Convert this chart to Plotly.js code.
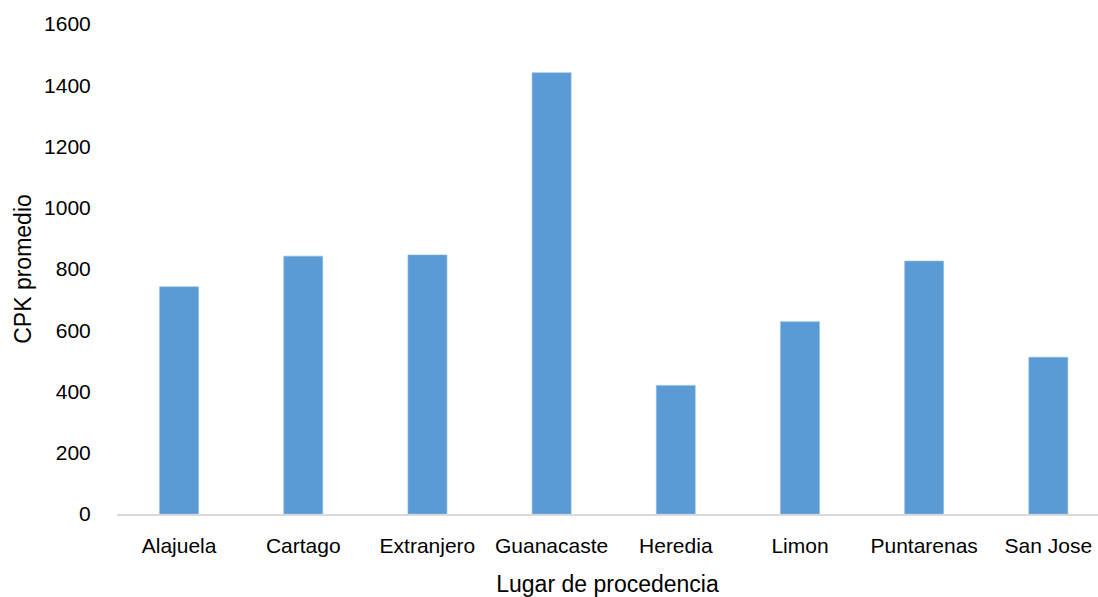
<!DOCTYPE html>
<html>
<head>
<meta charset="utf-8">
<script src="https://cdn.plot.ly/plotly-3.0.1.min.js"></script>
<style>html,body{margin:0;padding:0;background:#fff;overflow:hidden;}</style>
</head>
<body>
<div id="chart" style="width:1098px;height:597px;"></div>
<script>
const categories = ["Alajuela", "Cartago", "Extranjero", "Guanacaste", "Heredia", "Limon", "Puntarenas", "San Jose"];
const cpkPromedio = [742, 842, 846, 1441, 420, 628, 826, 512];
const yTickValues = [0, 200, 400, 600, 800, 1000, 1200, 1400, 1600];

const font = "Liberation Sans, Arial, sans-serif";

const trace = {
  type: "bar",
  x: categories,
  y: cpkPromedio,
  width: 0.314,
  marker: {color: "#5b9bd5", line: {color: "#8dbbe6", width: 0.6}},
  hoverinfo: "x+y"
};

const layout = {
  width: 1098,
  height: 597,
  margin: {l: 117, r: 0, t: 24, b: 83, pad: 0},
  paper_bgcolor: "#ffffff",
  plot_bgcolor: "#ffffff",
  showlegend: false,
  font: {family: font, size: 21, color: "#000000"},
  xaxis: {
    type: "category",
    range: [-0.5, 7.4],
    showline: true,
    linecolor: "#d9d9d9",
    linewidth: 1.5,
    showgrid: false,
    zeroline: false,
    ticks: "outside",
    ticklen: 12,
    tickcolor: "rgba(0,0,0,0)",
    tickfont: {family: font, size: 21, color: "#000"},
    title: {text: "Lugar de procedencia", font: {family: font, size: 23, color: "#000"}, standoff: 21},
    automargin: false,
    fixedrange: true
  },
  yaxis: {
    range: [0, 1600],
    tickvals: yTickValues,
    ticktext: yTickValues.map(String),
    showline: false,
    showgrid: false,
    zeroline: false,
    ticks: "outside",
    ticklen: 21,
    tickcolor: "rgba(0,0,0,0)",
    tickfont: {family: font, size: 21, color: "#000"},
    title: {text: "CPK promedio", font: {family: font, size: 23, color: "#000"}, standoff: 6},
    automargin: false,
    fixedrange: true
  }
};

Plotly.newPlot("chart", [trace], layout, {displayModeBar: false, staticPlot: true});
</script>
</body>
</html>
